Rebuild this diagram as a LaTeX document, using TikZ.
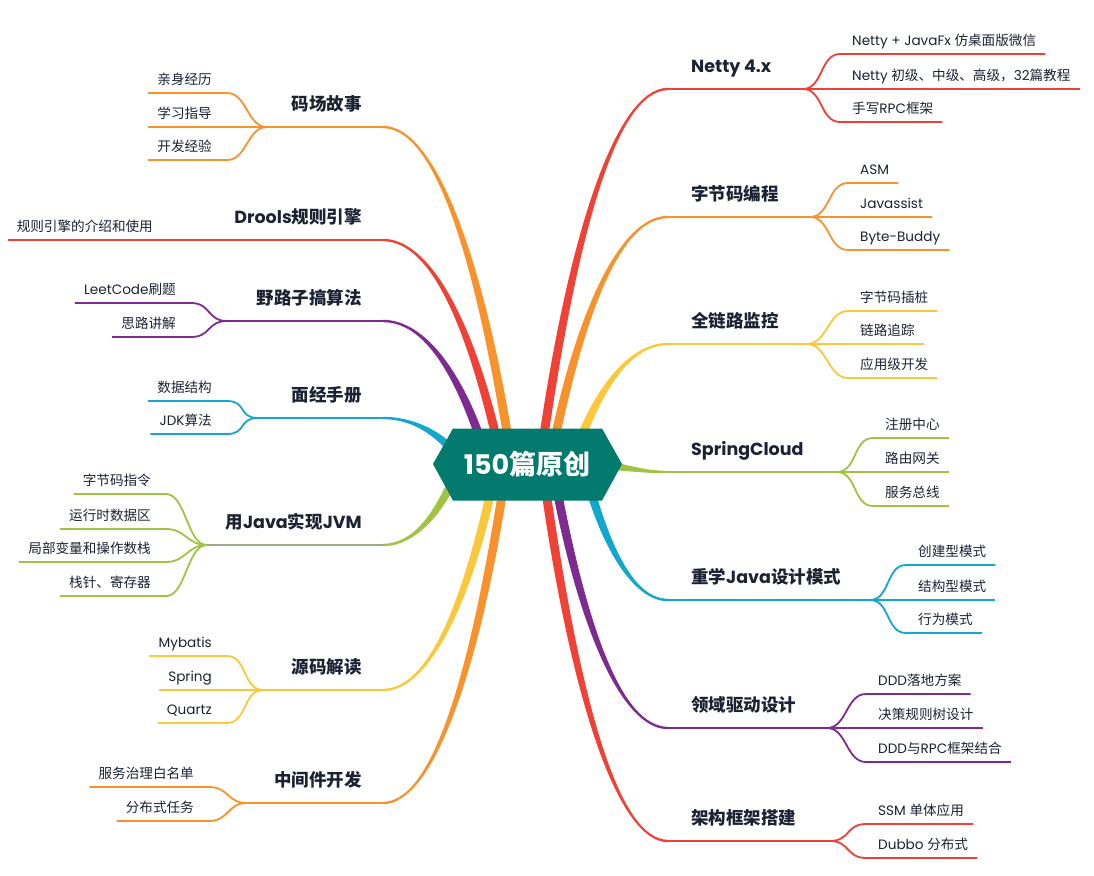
\documentclass[tikz,border=0pt]{standalone}
\usepackage{fontspec}
\setmainfont{Poppins}
\newfontfamily\cjk{Noto Sans CJK SC}
\usetikzlibrary{calc}
\newcommand\zhs[1]{{\cjk #1}}
\definecolor{cteal}{HTML}{037A6E}
\definecolor{cred}{HTML}{EF4136}
\definecolor{corange}{HTML}{F7922D}
\definecolor{cyellow}{HTML}{FBC83C}
\definecolor{cgreen}{HTML}{A2C243}
\definecolor{cgreengray}{HTML}{9EA98A}
\definecolor{cblue}{HTML}{12A7CC}
\definecolor{cpurple}{HTML}{7E2B90}
\definecolor{ctext}{HTML}{1B2333}
\tikzset{
 topic/.style={font=\fontsize{17.5}{20}\selectfont\bfseries, text=ctext, inner sep=0pt},
 leaf/.style={font=\fontsize{13.6}{16}\selectfont, text=ctext, inner sep=0pt},
 l1line/.style={line width=2.4pt},
 l2line/.style={line width=1.8pt},
}
% tapered curve through four named points
\newcommand\taper[5]{%
 \fill[#1] ($(#2)!4.5pt!90:(#3)$) .. controls ($(#3)!4.5pt!-90:(#2)$) and ($(#4)!1.2pt!90:(#5)$) .. ($(#5)!1.2pt!-90:(#4)$) -- ($(#5)!1.2pt!90:(#4)$) .. controls ($(#4)!1.2pt!-90:(#5)$) and ($(#3)!4.5pt!90:(#2)$) .. ($(#2)!4.5pt!-90:(#3)$) -- cycle;}
\newcommand\mainbranch[3]{%
 \coordinate (qa) at ($(#2)!0.25!(#3)$);
 \coordinate (qb) at ($(#2)!0.62!(#3)$);
 \coordinate (qc) at ($(#2)!0.6!(#3)$);
 \coordinate (q1) at (qa |- qb);
 \coordinate (q2) at (qc |- #3);
 \taper{#1}{#2}{q1}{q2}{#3}}
\newcommand\rtopic[6]{% name, color, yline, xfork, label, underline color
 \coordinate (#1-e) at (668,#3);
 \coordinate (#1-f) at (#4,#3);
 \draw[l1line,#6] (#1-e) -- (#1-f);
 \node[topic,anchor=base west] (#1) at (691,#3-16.4) {#5};}
\newcommand\ltopic[6]{%
 \coordinate (#1-e) at (383,#3);
 \coordinate (#1-f) at (#4,#3);
 \draw[l1line,#6] (#1-f) -- (#1-e);
 \node[topic,anchor=base east] (#1) at (362,#3-16.4) {#5};}
\newcommand\rkid[6]{% color, fork, yline, text x, name, label
 \node[leaf,anchor=base west] (#5) at (#4,#3-8.4) {#6};
 \coordinate (#5-y) at (0,#3);
 \draw[l2line,#1] (#2) .. controls +(20,0) and +(-20,0) .. (#4-12,#3) -- (#5.east |- #5-y) -- ++(9,0);}
\newcommand\lkid[6]{% color, fork, yline, text right x, name, label
 \node[leaf,anchor=base east] (#5) at (#4,#3-8.4) {#6};
 \coordinate (#5-y) at (0,#3);
 \draw[l2line,#1] (#2) .. controls +(-20,0) and +(20,0) .. (#4+15,#3) -- (#5.west |- #5-y) -- ++(-9,0);}
\begin{document}
\begin{tikzpicture}[x=1pt,y=-1pt]
\fill[white] (0,0) rectangle (1094,875);
\useasboundingbox (0,0) rectangle (1094,875);
% start points inside the root
\coordinate (netty-s) at (540,463);
\coordinate (bytecode-s) at (550,463);
\coordinate (trace-s) at (572,463);
\coordinate (design-s) at (583,463);
\coordinate (ddd-s) at (552,463);
\coordinate (arch-s) at (542,463);
\coordinate (story-s) at (512,463);
\coordinate (drools-s) at (502,463);
\coordinate (algo-s) at (488,463);
\coordinate (interview-s) at (463,463);
\coordinate (jvm-s) at (460,463);
\coordinate (source-s) at (497,463);
\coordinate (middleware-s) at (507,463);
% right topics
\rtopic{netty}{cred}{89}{803}{Netty 4.x}{cred}
\rtopic{bytecode}{corange}{217}{810}{\zhs{字节码编程}}{corange}
\rtopic{trace}{cyellow}{344}{807}{\zhs{全链路监控}}{cyellow}
\rtopic{spring}{cgreen}{472}{837}{SpringCloud}{cgreen}
\rtopic{design}{cblue}{600}{870}{\zhs{重学}Java\zhs{设计模式}}{cblue}
\rtopic{ddd}{cpurple}{728}{827}{\zhs{领域驱动设计}}{cpurple}
\rtopic{arch}{cred}{841}{830}{\zhs{架构框架搭建}}{cred}
% left topics
\ltopic{story}{corange}{127}{267}{\zhs{码场故事}}{corange}
\ltopic{drools}{cred}{240}{210}{Drools\zhs{规则引擎}}{cred}
\ltopic{algo}{cpurple}{321}{227}{\zhs{野路子搞算法}}{cpurple}
\ltopic{interview}{cblue}{418}{258}{\zhs{面经手册}}{cblue}
\ltopic{jvm}{cgreen}{545}{207}{\zhs{用}Java\zhs{实现}JVM}{cgreengray}
\ltopic{source}{cyellow}{690}{263}{\zhs{源码解读}}{cyellow}
\ltopic{middleware}{corange}{803}{247}{\zhs{中间件开发}}{corange}
% main branches
\mainbranch{cred}{netty-s}{netty-e}
\mainbranch{corange}{bytecode-s}{bytecode-e}
\mainbranch{cyellow}{trace-s}{trace-e}
\mainbranch{cblue}{design-s}{design-e}
\mainbranch{cpurple}{ddd-s}{ddd-e}
\mainbranch{cred}{arch-s}{arch-e}
\mainbranch{corange}{story-s}{story-e}
\mainbranch{cred}{drools-s}{drools-e}
\mainbranch{cpurple}{algo-s}{algo-e}
\mainbranch{cblue}{interview-s}{interview-e}
\mainbranch{cgreen}{jvm-s}{jvm-e}
\mainbranch{cyellow}{source-s}{source-e}
\mainbranch{corange}{middleware-s}{middleware-e}
\coordinate (spring-s) at (585,465);
\coordinate (spring-c1) at (625,465);
\coordinate (spring-c2) at (635,472);
\taper{cgreen}{spring-s}{spring-c1}{spring-c2}{spring-e}
% root
\fill[cteal] (433,464) -- (453,428.5) -- (602,428.5) -- (622,464) -- (602,500.5) -- (453,500.5) -- cycle;
\node[font=\fontsize{27}{30}\selectfont\bfseries, text=white, inner sep=0pt] (root) at (527,464) {150\zhs{篇原创}};
% right children
\rkid{cred}{netty-f}{54}{852}{netty1}{Netty + JavaFx \zhs{仿桌面版微信}}
\rkid{cred}{netty-f}{89}{852}{netty2}{Netty \zhs{初级、中级、高级，}32\zhs{篇教程}}
\rkid{cred}{netty-f}{122}{852}{netty3}{\zhs{手写}RPC\zhs{框架}}
\rkid{corange}{bytecode-f}{183}{860}{bytecode1}{ASM}
\rkid{corange}{bytecode-f}{217}{860}{bytecode2}{Javassist}
\rkid{corange}{bytecode-f}{250}{860}{bytecode3}{Byte-Buddy}
\rkid{cyellow}{trace-f}{311}{860}{trace1}{\zhs{字节码插桩}}
\rkid{cyellow}{trace-f}{344}{860}{trace2}{\zhs{链路追踪}}
\rkid{cyellow}{trace-f}{378}{860}{trace3}{\zhs{应用级开发}}
\rkid{cgreen}{spring-f}{438}{885}{spring1}{\zhs{注册中心}}
\rkid{cgreen}{spring-f}{472}{885}{spring2}{\zhs{路由网关}}
\rkid{cgreen}{spring-f}{506}{885}{spring3}{\zhs{服务总线}}
\rkid{cblue}{design-f}{565}{918}{design1}{\zhs{创建型模式}}
\rkid{cblue}{design-f}{600}{918}{design2}{\zhs{结构型模式}}
\rkid{cblue}{design-f}{633}{918}{design3}{\zhs{行为模式}}
\rkid{cpurple}{ddd-f}{694}{878}{ddd1}{DDD\zhs{落地方案}}
\rkid{cpurple}{ddd-f}{728}{878}{ddd2}{\zhs{决策规则树设计}}
\rkid{cpurple}{ddd-f}{762}{878}{ddd3}{DDD\zhs{与}RPC\zhs{框架结合}}
\rkid{cred}{arch-f}{824}{878}{arch1}{SSM \zhs{单体应用}}
\rkid{cred}{arch-f}{858}{878}{arch2}{Dubbo \zhs{分布式}}
% left children
\lkid{corange}{story-f}{93}{212}{story1}{\zhs{亲身经历}}
\lkid{corange}{story-f}{127}{212}{story2}{\zhs{学习指导}}
\lkid{corange}{story-f}{160}{212}{story3}{\zhs{开发经验}}
\lkid{cred}{drools-f}{240}{153}{drools1}{\zhs{规则引擎的介绍和使用}}
\lkid{cpurple}{algo-f}{303}{176}{algo1}{LeetCode\zhs{刷题}}
\lkid{cpurple}{algo-f}{337}{176}{algo2}{\zhs{思路讲解}}
\lkid{cblue}{interview-f}{401}{212}{interview1}{\zhs{数据结构}}
\lkid{cblue}{interview-f}{434}{212}{interview2}{JDK\zhs{算法}}
\lkid{cgreen}{jvm-f}{494}{151}{jvm1}{\zhs{字节码指令}}
\lkid{cgreen}{jvm-f}{529}{151}{jvm2}{\zhs{运行时数据区}}
\lkid{cgreen}{jvm-f}{562}{151}{jvm3}{\zhs{局部变量和操作数栈}}
\lkid{cgreen}{jvm-f}{596}{151}{jvm4}{\zhs{栈针、寄存器}}
\lkid{cyellow}{source-f}{656}{212}{source1}{Mybatis}
\lkid{cyellow}{source-f}{690}{212}{source2}{Spring}
\lkid{cyellow}{source-f}{723}{212}{source3}{Quartz}
\lkid{corange}{middleware-f}{787}{194}{middleware1}{\zhs{服务治理白名单}}
\lkid{corange}{middleware-f}{821}{194}{middleware2}{\zhs{分布式任务}}
\end{tikzpicture}
\end{document}
